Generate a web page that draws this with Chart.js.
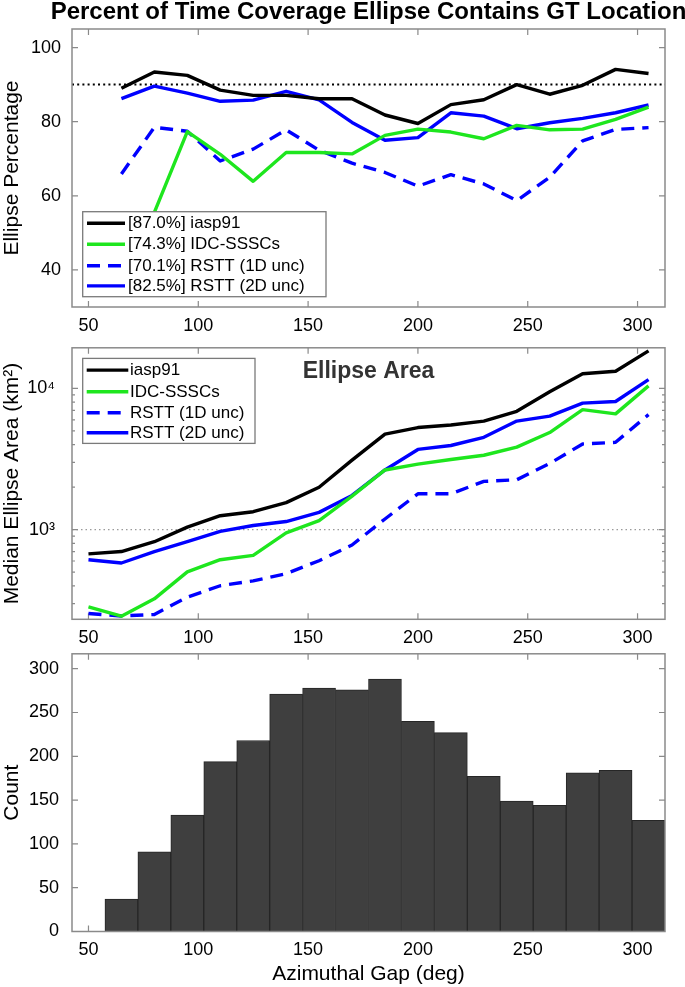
<!DOCTYPE html>
<html>
<head>
<meta charset="utf-8">
<script src="https://cdn.jsdelivr.net/npm/chart.js@4.4.1/dist/chart.umd.min.js"></script>
<style>
  html, body { margin: 0; padding: 0; background: #ffffff; }
  body { width: 685px; height: 987px; position: relative; overflow: hidden; }
  canvas { position: absolute; left: 0; }
</style>
</head>
<body>
<canvas id="c1" width="685" height="345" style="top:0px"></canvas>
<canvas id="c2" width="685" height="330" style="top:320px"></canvas>
<canvas id="c3" width="685" height="357" style="top:630px"></canvas>
<script>
// ---------------- DATA ----------------
const xTickValues = [50, 100, 150, 200, 250, 300];
const xMin = 42.5;
const xMax = 312.5;

// Panel 1: percent of time coverage ellipse contains GT location
const coverageTitle = 'Percent of Time Coverage Ellipse Contains GT Location';
const coverageGap = [65, 80, 95, 110, 125, 140, 155, 170, 185, 200, 215, 230, 245, 260, 275, 290, 305];
const coverageIasp91 = [89.0, 93.4, 92.5, 88.5, 87.1, 87.1, 86.2, 86.2, 81.8, 79.5, 84.6, 85.9, 90.0, 87.4, 89.8, 94.1, 93.0];
const coverageIdc    = [42.0, 55.5, 77.3, 71.2, 63.9, 71.7, 71.7, 71.3, 76.3, 78.0, 77.2, 75.4, 79.0, 77.8, 78.0, 80.6, 83.9];
const coverageRstt1D = [65.9, 78.5, 77.4, 69.4, 72.6, 77.8, 72.3, 68.8, 66.3, 62.6, 65.7, 63.2, 58.7, 65.0, 74.8, 77.9, 78.4];
const coverageRstt2D = [86.2, 89.6, 87.7, 85.5, 85.8, 88.2, 85.9, 79.8, 75.0, 75.7, 82.4, 81.5, 78.1, 79.7, 80.9, 82.4, 84.5];
const coverageLabels = ['[87.0%] iasp91', '[74.3%] IDC-SSSCs', '[70.1%] RSTT (1D unc)', '[82.5%] RSTT (2D unc)'];
const coverageTicks = [40, 60, 80, 100];
const coverageTarget = 90;

// Panel 2: median ellipse area (km^2)
const areaGap = [50, 65, 80, 95, 110, 125, 140, 155, 170, 185, 200, 215, 230, 245, 260, 275, 290, 305];
const areaIasp91 = [674, 700, 822, 1043, 1256, 1340, 1555, 1996, 3105, 4753, 5285, 5510, 5873, 6890, 9480, 12700, 13250, 18440];
const areaIdc    = [284, 244, 324, 503, 613, 658, 948, 1160, 1730, 2648, 2913, 3138, 3364, 3841, 4874, 7080, 6605, 10430];
const areaRstt1D = [255, 245, 251, 333, 401, 434, 488, 603, 779, 1191, 1795, 1795, 2197, 2256, 2944, 4045, 4155, 6530];
const areaRstt2D = [613, 581, 700, 822, 973, 1071, 1142, 1326, 1747, 2648, 3700, 3945, 4507, 5873, 6365, 7877, 8088, 11536];
const areaLabels = ['iasp91', 'IDC-SSSCs', 'RSTT (1D unc)', 'RSTT (2D unc)'];
const areaTicks = [1000, 10000];
const areaTickLabels = ['10\u00B3', '10\u2074'];
const areaReference = 1000;

// Panel 3: histogram of azimuthal gap
const countGap = [65, 80, 95, 110, 125, 140, 155, 170, 185, 200, 215, 230, 245, 260, 275, 290, 305];
const countValues = [37, 91, 133, 194, 218, 271, 278, 276, 288, 240, 227, 177, 149, 144, 181, 184, 127];
const countTicks = [0, 50, 100, 150, 200, 250, 300];

// ---------------- STYLE ----------------
const FONT = '"Liberation Sans", Arial, Helvetica, sans-serif';
const seriesColors = ['#000000', '#1ee61e', '#0000ff', '#0000ff'];
const seriesDashes = [[], [], [13, 8], []];
const LINE_W = 3.4;
const AXIS_GRAY = '#8a8a8a';

Chart.defaults.font.family = FONT;
Chart.defaults.color = '#000000';
Chart.defaults.animation = false;

function pts(xs, ys) { return xs.map((x, i) => ({ x: x, y: ys[i] })); }

function lineSets(xs, series, labels) {
  return series.map((ys, i) => ({
    label: labels[i],
    data: pts(xs, ys),
    borderColor: seriesColors[i],
    backgroundColor: seriesColors[i],
    borderWidth: LINE_W,
    borderDash: seriesDashes[i],
    pointRadius: 0,
    tension: 0,
    fill: false,
    borderJoinStyle: 'round'
  }));
}

const matlabAxes = {
  id: 'matlabAxes',
  beforeDatasetsDraw(chart, args, o) {
    const { ctx, chartArea: a } = chart;
    const x = chart.scales.x, y = chart.scales.y;
    ctx.save();
    if (o.refLine) {
      const py = y.getPixelForValue(o.refLine.value);
      ctx.strokeStyle = o.refLine.color;
      ctx.lineWidth = o.refLine.width;
      ctx.setLineDash(o.refLine.dash);
      ctx.beginPath();
      ctx.moveTo(a.left, py);
      ctx.lineTo(a.right, py);
      ctx.stroke();
      ctx.setLineDash([]);
    }
    ctx.strokeStyle = AXIS_GRAY;
    ctx.lineWidth = 1.2;
    ctx.beginPath();
    const TL = 6, TM = 3;
    for (const v of xTickValues) {
      const px = x.getPixelForValue(v);
      ctx.moveTo(px, a.bottom); ctx.lineTo(px, a.bottom - TL);
      ctx.moveTo(px, a.top); ctx.lineTo(px, a.top + TL);
    }
    for (const t of y.ticks) {
      const py = y.getPixelForValue(t.value);
      ctx.moveTo(a.left, py); ctx.lineTo(a.left + TL, py);
      ctx.moveTo(a.right, py); ctx.lineTo(a.right - TL, py);
    }
    if (o.minorLog) {
      const k0 = Math.floor(Math.log10(y.min)), k1 = Math.ceil(Math.log10(y.max));
      for (let k = k0; k <= k1; k++) {
        for (let m = 2; m <= 9; m++) {
          const v = m * Math.pow(10, k);
          if (v <= y.min || v >= y.max) continue;
          const py = y.getPixelForValue(v);
          ctx.moveTo(a.left, py); ctx.lineTo(a.left + TM, py);
          ctx.moveTo(a.right, py); ctx.lineTo(a.right - TM, py);
        }
      }
    }
    ctx.stroke();
    ctx.restore();
  },
  afterDatasetsDraw(chart, args, o) {
    const { ctx, chartArea: a } = chart;
    ctx.save();
    // frame
    ctx.strokeStyle = AXIS_GRAY;
    ctx.lineWidth = 1.5;
    ctx.strokeRect(a.left, a.top, a.right - a.left, a.bottom - a.top);
    // main title (drawn without width squeezing)
    if (o.mainTitle) {
      ctx.fillStyle = '#000000';
      ctx.font = o.mainTitle.font;
      ctx.textAlign = 'center';
      ctx.textBaseline = 'alphabetic';
      ctx.fillText(o.mainTitle.text, (a.left + a.right) / 2, o.mainTitle.baseline);
    }
    // inner title
    if (o.innerTitle) {
      ctx.fillStyle = '#333333';
      ctx.font = o.innerTitle.font;
      ctx.textAlign = 'center';
      ctx.textBaseline = 'middle';
      ctx.fillText(o.innerTitle.text, (a.left + a.right) / 2, a.top + o.innerTitle.dy);
    }
    // legend
    if (o.legend) {
      const L = o.legend;
      const bx = a.left + L.left, by = a.top + L.top;
      ctx.fillStyle = '#ffffff';
      ctx.fillRect(bx, by, L.width, L.height);
      ctx.strokeStyle = '#7a7a7a';
      ctx.lineWidth = 1.3;
      ctx.strokeRect(bx, by, L.width, L.height);
      ctx.font = L.font;
      ctx.textAlign = 'left';
      ctx.textBaseline = 'middle';
      chart.data.datasets.forEach((ds, i) => {
        const ry = by + L.rowY[i];
        ctx.strokeStyle = ds.borderColor;
        ctx.lineWidth = LINE_W;
        ctx.setLineDash(ds.borderDash || []);
        ctx.beginPath();
        ctx.moveTo(bx + L.sampleFrom, ry);
        ctx.lineTo(bx + L.sampleTo, ry);
        ctx.stroke();
        ctx.setLineDash([]);
        ctx.fillStyle = '#000000';
        ctx.fillText(ds.label, bx + L.textX, ry + 0.5);
      });
    }
    ctx.restore();
  }
};

function xScale(height, padding) {
  return {
    type: 'linear', min: xMin, max: xMax, offset: false,
    grid: { display: false, drawTicks: false },
    border: { display: false },
    ticks: { font: { size: 18 }, color: '#000', padding: padding, autoSkip: false, maxRotation: 0 },
    afterBuildTicks: s => { s.ticks = xTickValues.map(v => ({ value: v })); },
    afterFit: s => { s.height = height; }
  };
}

function yTitle(text) {
  return { display: true, text: text, font: { size: 21, lineHeight: 1.2 }, color: '#000', padding: { top: 0, bottom: 0 } };
}

// ---------------- CHART 1 ----------------
new Chart(document.getElementById('c1'), {
  type: 'line',
  data: { datasets: lineSets(coverageGap, [coverageIasp91, coverageIdc, coverageRstt1D, coverageRstt2D], coverageLabels) },
  options: {
    responsive: false,
    layout: { padding: { left: 0, right: 20, top: 29, bottom: 0 } },
    scales: {
      x: xScale(38, 8),
      y: {
        type: 'linear', min: 30, max: 105,
        grid: { display: false, drawTicks: false },
        border: { display: false },
        ticks: { font: { size: 18 }, color: '#000', padding: 11 },
        afterBuildTicks: s => { s.ticks = coverageTicks.map(v => ({ value: v })); },
        afterFit: s => { s.width = 72; },
        title: yTitle('Ellipse Percentage')
      }
    },
    plugins: {
      legend: { display: false },
      tooltip: { enabled: false },
      matlabAxes: {
        mainTitle: { text: coverageTitle, font: 'bold 24px ' + FONT, baseline: 19 },
        refLine: { value: coverageTarget, color: '#000000', width: 2, dash: [2, 3.2] },
        legend: { left: 10.7, top: 182.7, width: 243.3, height: 85, rowY: [11.6, 32.6, 54, 74.2], sampleFrom: 4.3, sampleTo: 42.3, textX: 45.3, font: '17px ' + FONT }
      }
    }
  },
  plugins: [matlabAxes]
});

// ---------------- CHART 2 ----------------
new Chart(document.getElementById('c2'), {
  type: 'line',
  data: { datasets: lineSets(areaGap, [areaIasp91, areaIdc, areaRstt1D, areaRstt2D], areaLabels) },
  options: {
    responsive: false,
    layout: { padding: { left: 0, right: 20, top: 21.7, bottom: 0 } },
    scales: {
      x: xScale(30.7, 8),
      y: {
        type: 'logarithmic', min: 232, max: 19400,
        grid: { display: false, drawTicks: false },
        border: { display: false },
        ticks: {
          font: { size: 18 }, color: '#000', padding: 17,
          callback: v => { const i = areaTicks.indexOf(v); return i >= 0 ? areaTickLabels[i] : ''; }
        },
        afterBuildTicks: s => { s.ticks = areaTicks.map(v => ({ value: v })); },
        afterFit: s => { s.width = 72; },
        title: yTitle('Median Ellipse Area (km\u00B2)')
      }
    },
    plugins: {
      legend: { display: false },
      tooltip: { enabled: false },
      matlabAxes: {
        minorLog: true,
        refLine: { value: areaReference, color: '#9a9a9a', width: 1.2, dash: [1.5, 3] },
        innerTitle: { text: 'Ellipse Area', font: 'bold 23px ' + FONT, dy: 24.3 },
        legend: { left: 10.7, top: 10.6, width: 172.3, height: 85, rowY: [11.7, 33.4, 54.4, 74.4], sampleFrom: 4, sampleTo: 45.6, textX: 47.3, font: '17px ' + FONT }
      }
    }
  },
  plugins: [matlabAxes]
});

// ---------------- CHART 3 ----------------
new Chart(document.getElementById('c3'), {
  type: 'bar',
  data: {
    datasets: [{
      label: 'Count',
      data: pts(countGap, countValues),
      backgroundColor: '#3f3f3f',
      borderColor: '#262626',
      borderWidth: 1,
      barPercentage: 1,
      categoryPercentage: 1
    }]
  },
  options: {
    responsive: false,
    layout: { padding: { left: 0, right: 20, top: 23.3, bottom: 0 } },
    scales: {
      x: Object.assign(xScale(55.5, 8), { title: { display: true, text: 'Azimuthal Gap (deg)', font: { size: 21, lineHeight: 1.2 }, color: '#000', padding: { top: 0, bottom: 0 } } }),
      y: {
        type: 'linear', min: 0, max: 317,
        grid: { display: false, drawTicks: false },
        border: { display: false },
        ticks: { font: { size: 18 }, color: '#000', padding: 13 },
        afterBuildTicks: s => { s.ticks = countTicks.map(v => ({ value: v })); },
        afterFit: s => { s.width = 72; },
        title: yTitle('Count')
      }
    },
    plugins: {
      legend: { display: false },
      tooltip: { enabled: false },
      matlabAxes: {}
    }
  },
  plugins: [matlabAxes]
});
</script>
</body>
</html>
